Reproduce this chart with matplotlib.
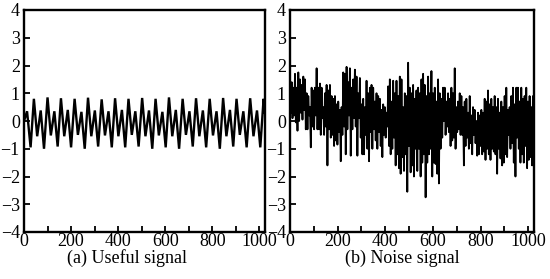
import numpy as np
import matplotlib
matplotlib.use("Agg")
import matplotlib.pyplot as plt

plt.rcParams['font.family'] = ['Liberation Serif', 'DejaVu Serif']

# ---- data: useful signal (vertex positions and values)
useful_x = [0, 13, 28,
            42, 56, 71, 85, 100, 114, 129, 143, 157, 171, 186, 200,
            215, 229, 244, 258, 272, 286, 301, 315, 330, 344, 359, 373,
            387, 401, 416, 430, 444, 458, 473, 487, 502, 516, 531, 545,
            559, 573, 588, 602, 616, 630, 645, 659, 674, 688, 703, 717,
            731, 745, 760, 774, 789, 803, 818, 832, 846, 860, 875, 889,
            903, 917, 932, 946, 961, 975, 990, 1004, 1018, 1023]
useful_y = [0.0, 0.35, -0.95,
            0.80, -0.55, 0.38, -1.00, 0.85, -0.52, 0.35, -0.92,
            0.82, -0.55, 0.40, -0.95, 0.80, -0.50, 0.33, -1.00,
            0.84, -0.55, 0.38, -0.92, 0.78, -0.52, 0.35, -0.95,
            0.82, -0.55, 0.40, -0.95, 0.80, -0.50, 0.35, -0.92,
            0.83, -0.55, 0.38, -1.00, 0.80, -0.52, 0.33, -0.95,
            0.85, -0.55, 0.40, -1.00, 0.80, -0.50, 0.35, -0.92,
            0.82, -0.55, 0.38, -0.95, 0.80, -0.52, 0.35, -1.00,
            0.83, -0.55, 0.40, -0.92, 0.80, -0.50, 0.35, -0.95,
            0.82, -0.55, 0.38, -0.95, 0.80, 0.30]

# ---- data: noise signal (alternating upper / lower excursions)
noise_y = [
    1.4, 0.3, 1.4, 0.1, 1.2, 0.2, 1.7, -0.05, 1.2, -0.35, 1.75, 0.0, 1.5, 0.3, 1.3, 0.05,
    1.6, 0.4, 1.5, -0.3, 1.0, -0.3, 0.9, 0.2, 0.5, -0.95, 1.2, -0.2, 1.1, -0.3, 1.2, 0.2,
    1.9, -0.3, 1.2, -0.3, 1.35, -0.5, 1.2, 0.1, 0.5, -0.5, 1.0, -0.2, 1.3, -1.6, 1.1, -0.3,
    1.3, -0.6, 0.9, -0.5, 0.8, -0.9, 0.9, -0.7, 0.6, -0.85, 0.7, -0.4, 0.4, -1.45, 0.5, -0.5,
    1.75, -0.2, 1.7, -1.2, 1.95, -0.3, 1.4, 0.2, 1.9, -1.25, 1.2, -0.3, 1.5, 0.1, 1.85, -0.2,
    1.6, -1.25, 1.0, 0.1, 1.55, -0.6, 0.6, -1.2, 0.8, -1.2, 0.5, -0.5, 1.45, -1.0, 1.0, -1.45,
    1.2, -0.4, 1.3, -1.0, 1.2, -0.3, 0.7, -0.7, 1.0, -1.0, 0.9, -0.4, 0.8, -0.9, 0.4, -1.3,
    0.6, -0.5, 0.5, -0.6, 0.3, -0.2, 1.25, -0.9, 1.5, -1.2, 0.7, -1.0, 1.45, -0.6, 1.0, -1.6,
    1.45, -1.2, 0.9, -1.7, 1.6, -1.9, 1.5, -1.3, 0.5, -1.8, 1.0, -1.2, 0.9, -2.55, 2.1, -0.9,
    1.2, -1.85, 1.0, -1.6, 1.3, -2.0, 0.8, -1.0, 1.1, -1.8, 1.2, -1.0, 1.0, -2.0, 1.5, -1.5,
    1.7, -1.2, 1.3, -2.75, 0.9, -1.5, 1.6, -1.2, 1.0, -1.0, 1.8, -2.0, 1.0, -1.5, 1.2, -1.55,
    0.7, -1.9, 1.5, -2.25, 1.0, -1.0, 0.8, -0.6, 1.2, 0.0, 1.2, -0.5, 0.7, -0.2, 1.0, -0.4,
    0.8, -0.9, 1.2, -0.7, 1.0, -0.6, 1.9, -1.0, 0.5, -0.4, 0.7, -0.3, 1.0, -0.5, 0.9, -0.5,
    0.5, -1.6, 0.7, -0.9, 0.8, -0.6, 0.3, -1.0, 0.9, -0.8, 0.2, -1.2, 0.5, -0.5, 0.4, -0.8,
    0.0, -1.25, 0.3, -1.2, 0.2, -0.9, 0.4, -1.2, 0.3, -1.1, 0.8, -1.4, 0.7, -1.0, 1.1, -1.2,
    0.6, -1.4, 0.8, -1.0, 0.5, -1.1, 0.9, -1.2, 0.5, -1.9, 0.8, -1.0, 0.3, -1.35, 0.7, -1.6,
    0.5, -1.5, 0.9, -1.2, 1.2, -1.3, 0.4, -0.5, 0.5, -1.0, 0.9, -0.8, 1.2, -1.5, 0.6, -2.0,
    1.2, -0.6, 1.2, -1.0, 0.7, -1.5, 1.2, -1.2, 0.8, -1.5, 0.9, -0.9, 1.2, -1.7, 0.7, -1.4,
    0.9, -1.3, 0.5, -1.6, 0.9, -1.5,
]
noise_x = np.linspace(0, 1023, len(noise_y))

x_ticks = [0, 200, 400, 600, 800, 1000]
y_ticks = [-4, -3, -2, -1, 0, 1, 2, 3, 4]
captions = ["(a) Useful signal", "(b) Noise signal"]

fig = plt.figure(figsize=(5.5, 2.79), dpi=100)
ax1 = fig.add_axes([24/550, 1-232/279, (265-24)/550, (232-10)/279])
ax2 = fig.add_axes([290/550, 1-232/279, (534-290)/550, (232-10)/279])

ax1.plot(useful_x, useful_y, color='black', lw=1.7, solid_joinstyle='miter')
ax2.plot(noise_x, noise_y, color='black', lw=1.3)

for ax in (ax1, ax2):
    ax.set_xlim(0, 1024)
    ax.set_ylim(-4, 4)
    ax.set_xticks(x_ticks)
    ax.set_xticks(np.arange(100, 1001, 200), minor=True)
    ax.set_yticks(y_ticks)
    ax.tick_params(axis='both', which='both', direction='in', length=4, width=1.3,
                   labelsize=13, top=False, right=False)
    ax.tick_params(axis='x', pad=0.5)
    ax.tick_params(axis='y', pad=3)
    for s in ax.spines.values():
        s.set_linewidth(1.7)

fig.text(127/550, 1-263/279, captions[0], ha='center', va='baseline', fontsize=13)
fig.text(402/550, 1-263/279, captions[1], ha='center', va='baseline', fontsize=13)

fig.savefig("out.png", dpi=100)
